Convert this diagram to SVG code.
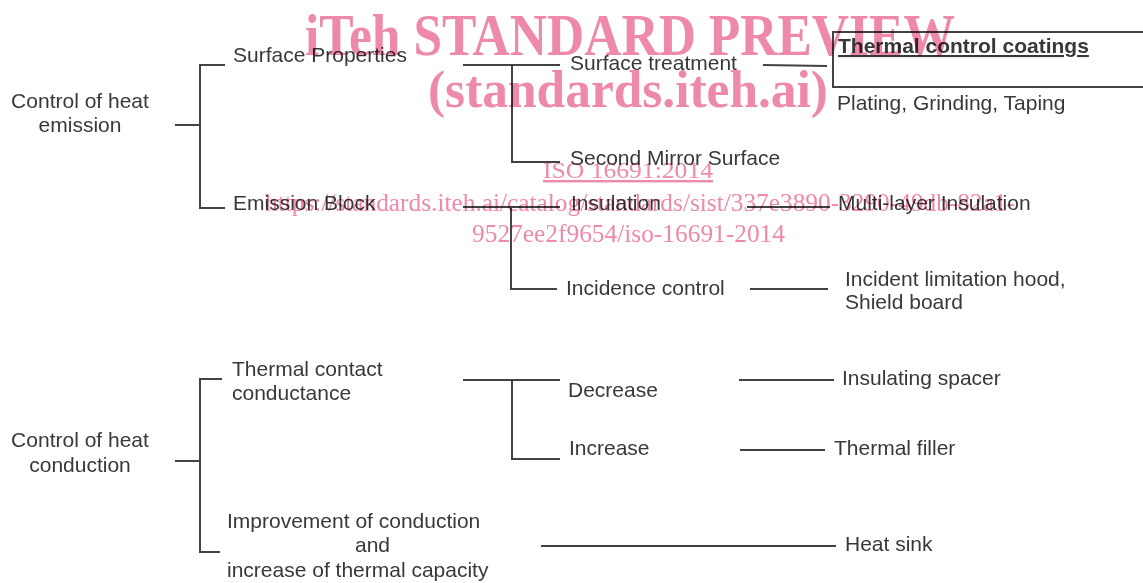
<svg xmlns="http://www.w3.org/2000/svg" width="1143" height="583" viewBox="0 0 1143 583">
<style>
  .t { font-family: "Liberation Sans", Arial, sans-serif; font-size: 21px; fill: #383838; }
  .b { font-weight: bold; text-decoration: underline; }
  .c { fill: none; stroke: #424242; stroke-width: 2; }
  .wm { font-family: "Liberation Serif", "Times New Roman", serif; fill: #ee89aa; mix-blend-mode: multiply; }
</style>
<rect width="1143" height="583" fill="#ffffff"/>
<g id="connectors" class="c">
  <path d="M175,125 H200"/>
  <path d="M225,65 H200 V208 H225"/>
  <path d="M463,65 H560"/>
  <path d="M512,65 V162 H560"/>
  <path d="M763,65 L827,66"/>
  <path d="M463,207 H560"/>
  <path d="M511,207 V289 H557"/>
  <path d="M747,207 H830"/>
  <path d="M750,289 H828"/>
  <path d="M175,461 H200"/>
  <path d="M222,379 H200 V552 H220"/>
  <path d="M463,380 H560"/>
  <path d="M512,380 V459 H560"/>
  <path d="M739,380 H834"/>
  <path d="M740,450 H825"/>
  <path d="M541,546 H836"/>
</g>
<g id="n-heat-emission"><text class="t" x="80" y="108" text-anchor="middle">Control of heat</text><text class="t" x="80" y="132" text-anchor="middle">emission</text></g>
<g id="n-surface-properties"><text class="t" x="233" y="62">Surface Properties</text></g>
<g id="n-emission-block"><text class="t" x="233" y="210">Emission Block</text></g>
<g id="n-surface-treatment"><text class="t" x="570" y="70">Surface treatment</text></g>
<g id="n-second-mirror"><text class="t" x="570" y="165">Second Mirror Surface</text></g>
<g id="n-thermal-coatings"><rect class="c" x="833" y="32" width="315" height="55"/><text class="t b" x="838" y="53">Thermal control coatings</text></g>
<g id="n-plating"><text class="t" x="837" y="110">Plating, Grinding, Taping</text></g>
<g id="n-insulation"><text class="t" x="571" y="210">Insulation</text></g>
<g id="n-multilayer"><text class="t" x="838" y="210">Multi-layer Insulation</text></g>
<g id="n-incidence"><text class="t" x="566" y="295">Incidence control</text></g>
<g id="n-hood"><text class="t" x="845" y="286">Incident limitation hood,</text><text class="t" x="845" y="309">Shield board</text></g>
<g id="n-heat-conduction"><text class="t" x="80" y="447" text-anchor="middle">Control of heat</text><text class="t" x="80" y="472" text-anchor="middle">conduction</text></g>
<g id="n-contact"><text class="t" x="232" y="376">Thermal contact</text><text class="t" x="232" y="400">conductance</text></g>
<g id="n-decrease"><text class="t" x="568" y="397">Decrease</text></g>
<g id="n-increase"><text class="t" x="569" y="455">Increase</text></g>
<g id="n-spacer"><text class="t" x="842" y="385">Insulating spacer</text></g>
<g id="n-filler"><text class="t" x="834" y="455">Thermal filler</text></g>
<g id="n-improvement"><text class="t" x="227" y="528">Improvement of conduction</text><text class="t" x="355" y="552">and</text><text class="t" x="227" y="577">increase of thermal capacity</text></g>
<g id="n-heat-sink"><text class="t" x="845" y="551">Heat sink</text></g>
<g id="watermark" class="wm">
  <text x="305" y="55" font-size="60" font-weight="bold" textLength="650" lengthAdjust="spacingAndGlyphs">iTeh STANDARD PREVIEW</text>
  <text x="428" y="107" font-size="52" font-weight="bold" textLength="400" lengthAdjust="spacingAndGlyphs">(standards.iteh.ai)</text>
  <text x="543" y="178" font-size="24" text-decoration="underline" textLength="170" lengthAdjust="spacingAndGlyphs">ISO 16691:2014</text>
  <text x="265" y="211" font-size="24.5" textLength="750" lengthAdjust="spacingAndGlyphs">https://standards.iteh.ai/catalog/standards/sist/337e3890-3290-49db-82a1-</text>
  <text x="472" y="242" font-size="25" textLength="313" lengthAdjust="spacingAndGlyphs">9527ee2f9654/iso-16691-2014</text>
</g>
</svg>
